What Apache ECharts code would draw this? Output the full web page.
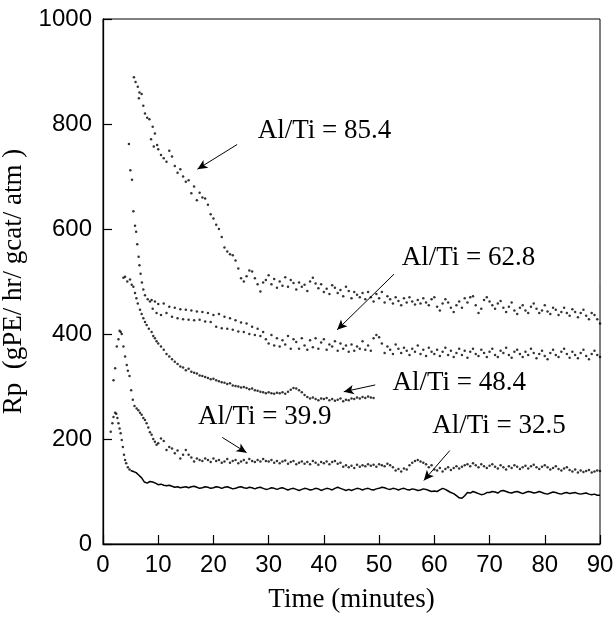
<!DOCTYPE html>
<html><head><meta charset="utf-8">
<script src="https://cdn.jsdelivr.net/npm/echarts@6/dist/echarts.min.js"></script>
<style>html,body{margin:0;padding:0;background:#fff}#c{width:613px;height:618px}</style>
</head><body><div id="c"></div><script>
// ---- tick labels / axes ----
const xTicks = [0, 10, 20, 30, 40, 50, 60, 70, 80, 90];
const yTicks = [0, 200, 400, 600, 800, 1000];
const STEP = 0.5; // tail samples every 0.5 min

// ---- Al/Ti = 85.4 ----
const s854_onT = [5.6, 5.9, 6.3, 6.5, 6.6, 7.0, 7.3, 7.6, 8.0, 8.4, 8.7, 9.0, 9.2, 9.4, 9.8];
const s854_onV = [889, 880, 871, 849, 860, 857, 835, 820, 812, 809, 771, 795, 757, 782, 760];
const s854_tailStart = 10;
const s854_tail = [
 752, 741, 735, 728, 749, 738, 720, 707, 714, 700,
 690, 693, 668, 681, 655, 669, 660, 658, 646, 628,
 620, 608, 600, 585, 565, 557, 552, 550, 540, 525,
 506, 500, 510, 521, 519, 506, 495, 481, 498, 503,
 512, 495, 505, 488, 500, 492, 508, 490, 503, 497,
 485, 498, 490, 494, 482, 500, 507, 496, 487, 495,
 480, 486, 476, 493, 488, 478, 484, 472, 490, 482,
 468, 480, 475, 470, 478, 466, 480, 470, 462, 476,
 468, 480, 460, 472, 466, 458, 470, 463, 455, 468,
 460, 470, 462, 456, 465, 458, 468, 460, 455, 466,
 470, 452, 445, 458, 466, 460, 450, 442, 455, 462,
 450, 468, 460, 470, 472, 455, 440, 448, 465, 470,
 462, 455, 448, 458, 463, 450, 442, 452, 460, 445,
 438, 450, 455, 445, 440, 452, 458, 448, 440, 445,
 455, 443, 438, 450, 446, 436, 442, 450, 440, 435,
 447, 442, 432, 440, 446, 435, 428, 440, 436, 428,
 420];

// ---- Al/Ti = 62.8 ----
const s628_onT = [4.7, 4.95, 5.25, 5.5, 5.8, 6.0, 6.2, 6.45, 6.6, 6.8, 7.05, 7.3, 7.6, 8.1, 8.5, 8.8, 9.0, 9.4, 9.7];
const s628_onV = [762, 712, 694, 634, 606, 595, 571, 547, 531, 515, 498, 485, 474, 466, 462, 465, 448, 462, 440];
const s628_tailStart = 10;
const s628_tail = [
 457, 436, 458, 440, 452, 433, 450, 430, 447, 428,
 446, 427, 445, 426, 443, 427, 442, 424, 440, 423,
 436, 414, 438, 411, 433, 410, 430, 408, 426, 405,
 422, 404, 420, 400, 414, 398, 410, 396, 404, 390,
 382, 398, 378, 392, 376, 388, 380, 396, 372, 390,
 385, 372, 392, 378, 370, 388, 375, 392, 372, 384,
 390, 370, 380, 376, 386, 368, 382, 372, 378, 366,
 380, 368, 376, 372, 386, 370, 378, 368, 392, 398,
 394, 382, 364, 376, 370, 362, 380, 372, 364, 374,
 368, 360, 372, 366, 378, 362, 370, 358, 374, 366,
 362, 370, 358, 366, 374, 360, 368, 356, 364, 372,
 360, 368, 355, 366, 372, 362, 358, 370, 364, 356,
 366, 372, 360, 356, 368, 364, 374, 360, 355, 366,
 370, 362, 356, 366, 360, 372, 364, 354, 362, 368,
 358, 352, 364, 370, 360, 356, 366, 372, 362, 355,
 366, 360, 354, 364, 370, 358, 352, 362, 368, 360,
 356];

// ---- Al/Ti = 48.4 ----
const s484_onT = [3.7, 4.0, 4.4, 4.9, 5.2, 5.5, 5.8, 6.05, 6.3, 6.7, 7.0, 7.3, 7.6, 7.9, 8.3, 8.8, 9.1, 9.4, 9.7];
const s484_onV = [507, 509, 500, 504, 494, 490, 478, 468, 458, 446, 438, 430, 423, 417, 410, 404, 396, 392, 386];
const s484_tailStart = 10;
const s484_tail = [
 382, 376, 370, 362, 357, 352, 347, 343, 338, 336,
 331, 334, 328, 326, 325, 321, 320, 318, 316, 314,
 315, 312, 310, 308, 307, 305, 306, 302, 301, 300,
 298, 299, 297, 295, 296, 293, 292, 290, 289, 287,
 289, 287, 286, 288, 287, 289, 286, 290, 294, 297,
 296, 293, 289, 284, 280, 277, 279, 276, 274, 277,
 276, 278, 274, 276, 273, 275, 277, 272, 275, 274,
 277, 276, 279, 277, 280, 278, 281, 279, 278];

// ---- Al/Ti = 39.9 ----
const s399_onT = [1.9, 2.2, 2.5, 2.8, 3.0, 3.2, 3.4, 3.7, 4.0, 4.3, 4.5, 4.8, 5.1, 5.4, 5.7, 6.1, 6.4, 6.7, 7.0, 7.3, 7.6, 7.9, 8.2, 8.5, 8.8, 9.1, 9.4, 9.7];
const s399_onV = [312, 335, 376, 390, 406, 404, 400, 376, 357, 341, 330, 320, 293, 275, 263, 258, 255, 250, 246, 240, 236, 230, 222, 213, 208, 200, 195, 189];
const s399_tailStart = 10;
const s399_tail = [
 192, 201, 196, 179, 185, 182, 173, 178, 163, 170,
 179, 170, 165, 157, 163, 160, 158, 163, 160, 156,
 163, 158, 160, 155, 157, 162, 155, 158, 160, 154,
 157, 160, 155, 162, 158, 156, 160, 157, 162, 158,
 157, 160, 155, 158, 154, 157, 159, 153, 156, 158,
 152, 155, 157, 153, 156, 152, 158, 155, 151, 156,
 154, 157, 152, 156, 158, 153, 155, 147, 150, 146,
 149, 145, 151, 147, 150, 148, 152, 149, 151, 147,
 152, 150, 148, 153, 150, 146, 140, 143, 138, 144,
 142, 150, 155, 158, 160, 157, 155, 152, 146, 150,
 142, 140, 145, 138, 143, 146, 141, 145, 148, 144,
 147, 150, 152, 148, 154, 150, 146, 152, 148, 145,
 149, 152, 147, 144, 150, 146, 142, 148, 145, 150,
 147, 143, 146, 149, 144, 148, 151, 146, 143, 147,
 150, 146, 142, 145, 148, 143, 140, 144, 146, 141,
 138, 142, 136, 140, 137, 139, 141, 136, 138, 140,
 139];

// ---- Al/Ti = 32.5 ----
const s325_onT = [1.4, 1.7, 1.9, 2.2, 2.4, 2.6, 2.8, 3.0, 3.2, 3.4, 3.6, 3.8, 4.0, 4.2, 4.5, 4.8];
const s325_onV = [214, 230, 242, 250, 248, 240, 230, 220, 211, 198, 185, 170, 160, 154, 146, 142];
const s325_tailStart = 5;
const s325_tail = [
 140, 138, 136, 131, 126, 118, 116, 119, 118, 116,
 113, 114, 112, 111, 112, 110, 108, 109, 107, 108,
 109, 107, 109, 110, 108, 106, 107, 109, 108, 106,
 107, 109, 108, 106, 108, 109, 107, 105, 106, 108,
 109, 107, 106, 108, 107, 105, 107, 108, 106, 104,
 105, 107, 106, 104, 106, 107, 105, 103, 105, 106,
 104, 102, 104, 106, 105, 103, 104, 106, 105, 102,
 104, 106, 105, 103, 106, 108, 106, 104, 102, 104,
 102, 104, 106, 105, 103, 105, 106, 104, 103, 105,
 106, 108, 107, 105, 104, 106, 105, 103, 105, 106,
 104, 103, 105, 104, 102, 103, 105, 104, 102, 100,
 101, 100, 103, 106, 104, 101, 98, 96, 92, 88,
 87, 92, 98, 97, 100, 98, 96, 94, 95, 98,
 98, 100, 99, 97, 101, 102, 100, 98, 97, 99,
 100, 98, 96, 98, 100, 99, 97, 98, 100, 98,
 96, 95, 97, 99, 98, 96, 95, 97, 98, 96,
 97, 98, 96, 95, 96, 97, 95, 94, 95, 93,
 93];

// ---- annotations (data coordinates) ----
const annoText = ['Al/Ti = 85.4', 'Al/Ti = 62.8', 'Al/Ti = 48.4', 'Al/Ti = 39.9', 'Al/Ti = 32.5'];
const annoPos = [[40.1, 787], [66.2, 545], [64.5, 307], [29.3, 243], [71.7, 225]];
const arrowFrom = [[24.3, 761], [52.7, 514], [49.3, 303], [21.6, 203], [62.8, 178]];
const arrowTo = [[17.1, 714], [42.4, 408], [43.6, 290], [26.0, 174], [58.1, 121]];

function pairs(ts, vs) { return ts.map((t, i) => [t, vs[i]]); }
function tail(start, vs) { return vs.map((v, i) => [start + i * STEP, v]); }

const serif = '"Liberation Serif", "Times New Roman", serif';
const sans = '"Liberation Sans", Arial, sans-serif';

function dots(name, data) {
  return {
    name: name, type: 'scatter', data: data, symbol: 'circle', symbolSize: 2.5,
    itemStyle: { color: '#000' }, silent: true, animation: false
  };
}

const chart = echarts.init(document.getElementById('c'), null, { renderer: 'canvas' });
chart.setOption({
  backgroundColor: '#fff',
  animation: false,
  grid: { left: 103, right: 13, top: 19, bottom: 74, containLabel: false, outerBoundsMode: 'none',
    show: true, borderColor: '#000', borderWidth: 1, backgroundColor: 'transparent' },
  xAxis: {
    type: 'value', min: 0, max: 90, interval: 10,
    name: 'Time (minutes)', nameLocation: 'middle', nameGap: 42,
    nameTextStyle: { fontFamily: serif, fontSize: 27, color: '#000' },
    axisLine: { show: true, lineStyle: { color: '#000', width: 1.3 } },
    axisTick: { show: true, inside: true, length: 9, lineStyle: { color: '#000', width: 1.2 } },
    axisLabel: { fontFamily: sans, fontSize: 24, color: '#000', margin: 9, hideOverlap: false,
      formatter: v => xTicks.includes(v) ? String(v) : '' },
    splitLine: { show: false }
  },
  yAxis: {
    type: 'value', min: 0, max: 1000, interval: 200,
    name: 'Rp  (gPE/ hr/ gcat/ atm )', nameLocation: 'middle', nameGap: 66,
    nameTextStyle: { fontFamily: serif, fontSize: 27, color: '#000' },
    axisLine: { show: true, lineStyle: { color: '#000', width: 1.3 } },
    axisTick: { show: true, inside: true, length: 9, lineStyle: { color: '#000', width: 1.2 } },
    axisLabel: { fontFamily: sans, fontSize: 24, color: '#000', margin: 11,
      formatter: v => yTicks.includes(v) ? String(v) : '' },
    splitLine: { show: false }
  },
  series: [
    dots('Al/Ti = 85.4', pairs(s854_onT, s854_onV).concat(tail(s854_tailStart, s854_tail))),
    dots('Al/Ti = 62.8', pairs(s628_onT, s628_onV).concat(tail(s628_tailStart, s628_tail))),
    dots('Al/Ti = 48.4', pairs(s484_onT, s484_onV).concat(tail(s484_tailStart, s484_tail))),
    dots('Al/Ti = 39.9', pairs(s399_onT, s399_onV).concat(tail(s399_tailStart, s399_tail))),
    dots('Al/Ti = 32.5 onset', pairs(s325_onT, s325_onV)),
    {
      name: 'Al/Ti = 32.5', type: 'line', data: tail(s325_tailStart, s325_tail),
      showSymbol: false, symbol: 'none', silent: true,
      lineStyle: { color: '#000', width: 1.5 },
      markLine: {
        silent: true, symbol: ['none', 'arrow'], symbolSize: [7, 10],
        label: { show: false },
        lineStyle: { color: '#000', width: 1, type: 'solid' },
        data: arrowFrom.map((f, i) => [{ coord: f }, { coord: arrowTo[i] }])
      }
    }
  ]
});

function placeText() {
  const els = annoText.map((txt, i) => {
    const p = chart.convertToPixel({ gridIndex: 0 }, annoPos[i]);
    return {
      type: 'text', x: p[0], y: p[1], silent: true,
      style: { text: txt, fontFamily: serif, fontSize: 27, fill: '#000', align: 'center', verticalAlign: 'middle' }
    };
  });
  chart.setOption({ graphic: els });
}
placeText();
</script></body></html>
